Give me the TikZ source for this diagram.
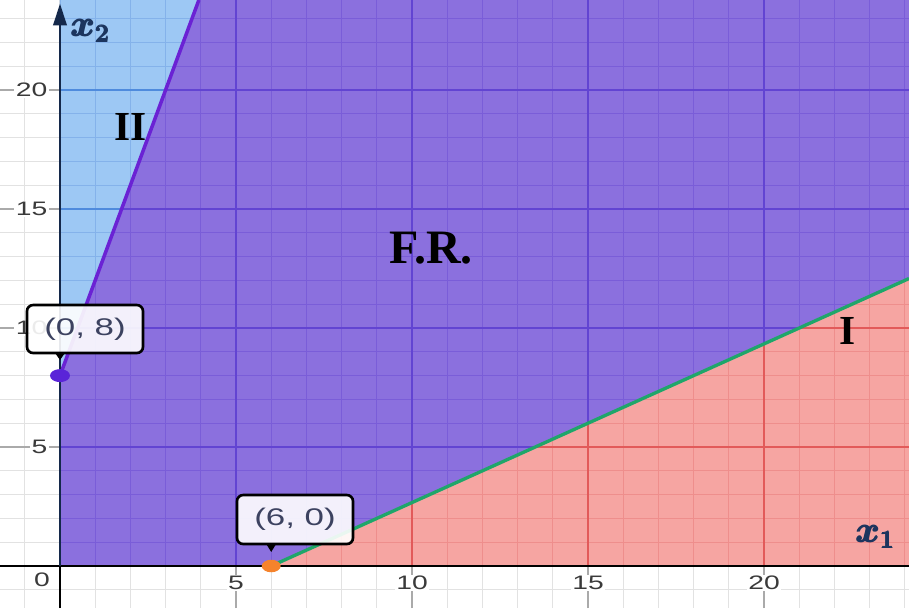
\documentclass[tikz,border=0pt]{standalone}
\usepackage{fontspec}
\setmainfont{Liberation Serif}
\setsansfont{Liberation Sans}
\usepackage{graphicx}
\usepackage{amsmath}
\definecolor{gminor}{HTML}{E2E2E2}
\definecolor{gmajor}{HTML}{AAAAAA}
\definecolor{purfill}{HTML}{8B70DE}
\definecolor{purminor}{HTML}{7A5DD8}
\definecolor{purmajor}{HTML}{6244D2}
\definecolor{pinkfill}{HTML}{F6A5A2}
\definecolor{pinkminor}{HTML}{EE8E8C}
\definecolor{pinkmajor}{HTML}{E25A5A}
\definecolor{bluefill}{HTML}{9DC8F4}
\definecolor{blueminor}{HTML}{84B2EA}
\definecolor{bluemajor}{HTML}{4F8BDD}
\definecolor{greenline}{HTML}{1FA66A}
\definecolor{violetline}{HTML}{6A22D4}
\definecolor{navyaxis}{HTML}{14284A}
\definecolor{ticktext}{HTML}{3A3A3A}
\definecolor{calltext}{HTML}{3C4260}
\definecolor{dotpurple}{HTML}{5A24D8}
\definecolor{dotorange}{HTML}{F5832C}
\definecolor{axlabcol}{HTML}{1C355E}
\newcommand\drawgridlines[2]{%
  \foreach \i in {-1,...,24} \draw[#1] (\i,-1.7647) -- (\i,23.782);
  \foreach \j in {-1,...,23} \draw[#1] (-1.7045,\j) -- (24.119,\j);
  \foreach \i in {5,10,15,20} \draw[#2] (\i,-1.7647) -- (\i,23.782);
  \foreach \j in {5,10,15,20} \draw[#2] (-1.7045,\j) -- (24.119,\j);
}
\newcommand\wide[1]{\scalebox{1.45}[1]{#1}}
\begin{document}
\begin{tikzpicture}[x=0.704cm,y=0.476cm,
  minorln/.style={line width=0.6pt},
  majorln/.style={line width=0.9pt},
  axisln/.style={line width=1.2pt},
  tick/.style={font=\sffamily\fontsize{11.1}{13}\selectfont, text=ticktext, fill=white, inner sep=0.8pt},
  callout/.style={draw=black, line width=1.5pt, rounded corners=3.5pt, fill=white, fill opacity=0.9, text opacity=1,
     minimum width=2.32cm, inner sep=0pt, font=\sffamily\fontsize{13.7}{16}\selectfont, text=calltext},
  region/.style={font=\bfseries\fontsize{23.5}{26}\selectfont, text=black},
  axlab/.style={font=\fontsize{21}{24}\selectfont, text=axlabcol, inner sep=0pt}
]
\useasboundingbox (-1.7045,-1.7647) rectangle (24.119,23.782);
\fill[white] (-1.7045,-1.7647) rectangle (24.119,23.782);
% base grid
\drawgridlines{minorln,gminor}{majorln,gmajor}
% region corners
\coordinate (O) at (0,0);
\coordinate (A) at (6,0);
\coordinate (B) at (24.119,12.079);
\coordinate (C) at (24.119,23.782);
\coordinate (D) at (3.9455,23.782);
\coordinate (E) at (0,8);
\coordinate (F) at (0,23.782);
\coordinate (G) at (24.119,0);
% feasible region
\fill[purfill] (O) -- (A) -- (B) -- (C) -- (D) -- (E) -- cycle;
\begin{scope}
  \clip (O) -- (A) -- (B) -- (C) -- (D) -- (E) -- cycle;
  \drawgridlines{minorln,purminor}{majorln,purmajor}
\end{scope}
% region II
\fill[bluefill] (E) -- (D) -- (F) -- cycle;
\begin{scope}
  \clip (E) -- (D) -- (F) -- cycle;
  \drawgridlines{minorln,blueminor}{majorln,bluemajor}
\end{scope}
% region I
\fill[pinkfill] (A) -- (G) -- (B) -- cycle;
\begin{scope}
  \clip (A) -- (G) -- (B) -- cycle;
  \drawgridlines{minorln,pinkminor}{majorln,pinkmajor}
\end{scope}
% boundary lines
\draw[greenline, line width=1.9pt] (A) -- (B);
\draw[violetline, line width=2pt] (E) -- (D);
% axes
\coordinate (xl) at (-1.7045,0);
\coordinate (xr) at (24.119,0);
\coordinate (yb) at (0,-1.7647);
\coordinate (yt) at (0,22.9);
\coordinate (ytip) at (0,23.62);
\draw[axisln, black] (xl) -- (xr);
\draw[axisln, black] (yb) -- (O);
\draw[axisln, navyaxis] (O) -- (yt);
\fill[navyaxis] (ytip) -- ++(-0.2,-0.9) -- ++(0.4,0) -- cycle;
% tick labels
\node[tick] (t0) at (-0.511,-0.588) {\wide{0}};
\node[tick] (t5) at (5,-0.714) {\wide{5}};
\node[tick] (t10) at (10,-0.714) {\wide{10}};
\node[tick] (t15) at (15,-0.714) {\wide{15}};
\node[tick] (t20) at (20,-0.714) {\wide{20}};
\node[tick, anchor=east] (s5) at (-0.3125,5) {\wide{5}};
\node[tick, anchor=east] (s10) at (-0.3125,10) {\wide{10}};
\node[tick, anchor=east] (s15) at (-0.3125,15) {\wide{15}};
\node[tick, anchor=east] (s20) at (-0.3125,20) {\wide{20}};
% points and callouts
\fill[dotpurple] (E) ellipse [x radius=0.2cm, y radius=0.13cm];
\fill[dotorange] (A) ellipse [x radius=0.19cm, y radius=0.125cm];
\node[callout, minimum height=0.96cm] (c08) at (0.710,9.958) {\wide{(0, 8)}};
\node[callout, minimum height=0.98cm] (c60) at (6.676,1.954) {\wide{(6, 0)}};
\coordinate (p08) at (0,8.655);
\coordinate (p60) at (6,0.59);
\fill[black] (p08) -- ++(-0.142,0.3) -- ++(0.284,0) -- cycle;
\fill[black] (p60) -- ++(-0.142,0.34) -- ++(0.284,0) -- cycle;
% region labels
\node[region, font=\bfseries\fontsize{27.3}{30}\selectfont] (fr) at (10.54,13.36) {F.R.};
\node[region] (r2) at (2.017,18.45) {II};
\node[region] (r1) at (22.36,9.87) {I};
% axis labels
\node[axlab] (lx2) at (0.88,22.48) {$\pmb{\boldsymbol{x}}_{\pmb{\boldsymbol{2}}}$};
\node[axlab] (lx1) at (23.18,1.22) {$\pmb{\boldsymbol{x}}_{\pmb{\boldsymbol{1}}}$};
\end{tikzpicture}
\end{document}
